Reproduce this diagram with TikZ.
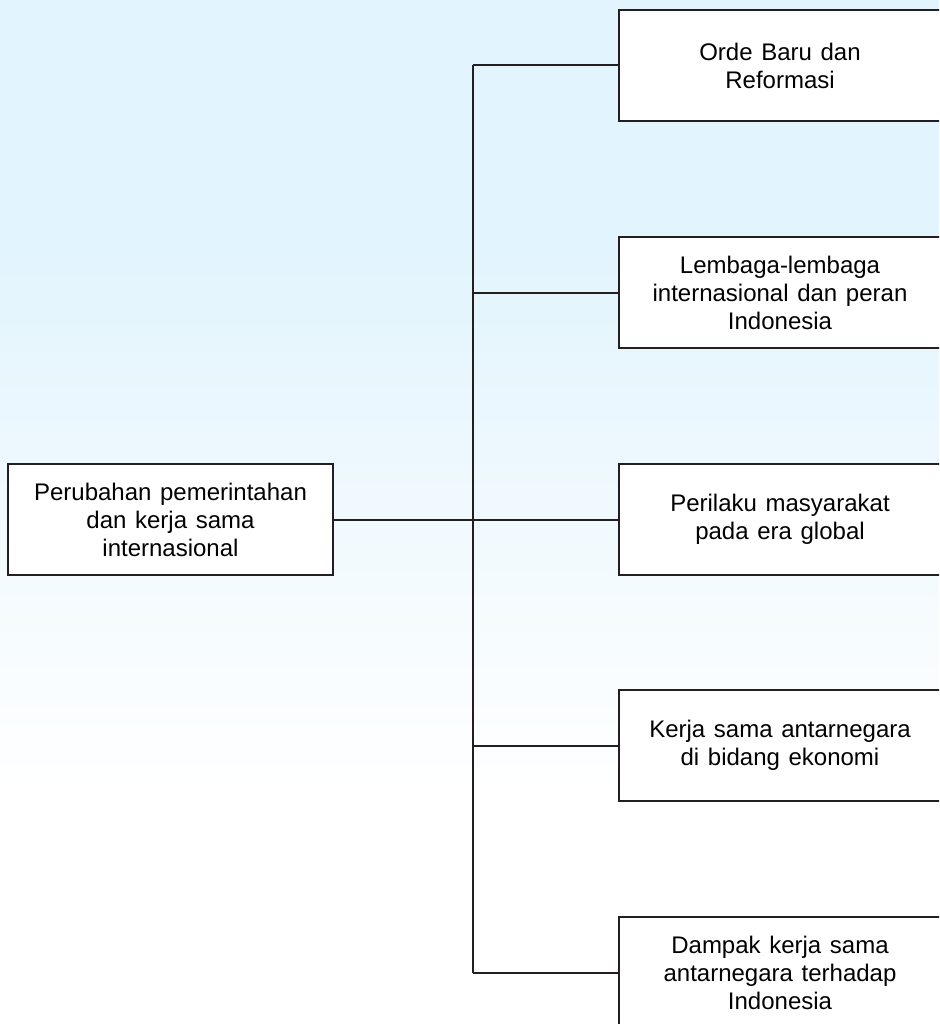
\documentclass[tikz,border=0pt]{standalone}
\usepackage{fontspec}
\setmainfont{Liberation Sans}
\usepackage{tikz}
\usepackage{xcolor}
\definecolor{skyblue}{RGB}{226,244,253}
\definecolor{inkgray}{RGB}{35,31,32}
\newcommand{\boxfont}{\fontsize{24}{28}\selectfont\spaceskip=0.36em\relax}

\begin{document}
\begin{tikzpicture}[x=1pt, y=-1pt,
    topicbox/.style={draw=inkgray, line width=2.8pt, fill=white, align=center,
        minimum width=322pt, minimum height=111pt, inner sep=0pt,
        font=\boxfont},
    branch/.style={draw=inkgray, line width=2pt}]
    % Page and background
    \clip (0,0) rectangle (939,1024);
    \fill[white] (0,0) rectangle (939,1024);
    \shade[top color=skyblue, bottom color=white] (0,250) rectangle (939,790);
    \fill[skyblue] (0,0) rectangle (939,251);

    % Main topic
    \node[topicbox, minimum width=325pt] (root) at (170.5,519.5)
        {Perubahan pemerintahan\\dan kerja sama\\internasional};
    \coordinate (hub) at (473,519.5);

    % Sub topics
    \foreach \i/\y/\label in {
        1/65.5/{Orde Baru dan\\Reformasi},
        2/292.5/{Lembaga-lembaga\\internasional dan peran\\Indonesia},
        3/519.5/{Perilaku masyarakat\\pada era global},
        4/745.5/{Kerja sama antarnegara\\di bidang ekonomi},
        5/972.5/{Dampak kerja sama\\antarnegara terhadap\\Indonesia}} {
        \node[topicbox] (b\i) at (780,\y) {\label};
        \draw[branch] (hub |- b\i.west) -- (b\i.west);
    }

    % Trunk
    \draw[branch] (root.east) -- (hub);
    \draw[branch] (hub |- b1.west) -- (hub |- b5.west);

\end{tikzpicture}
\end{document}
